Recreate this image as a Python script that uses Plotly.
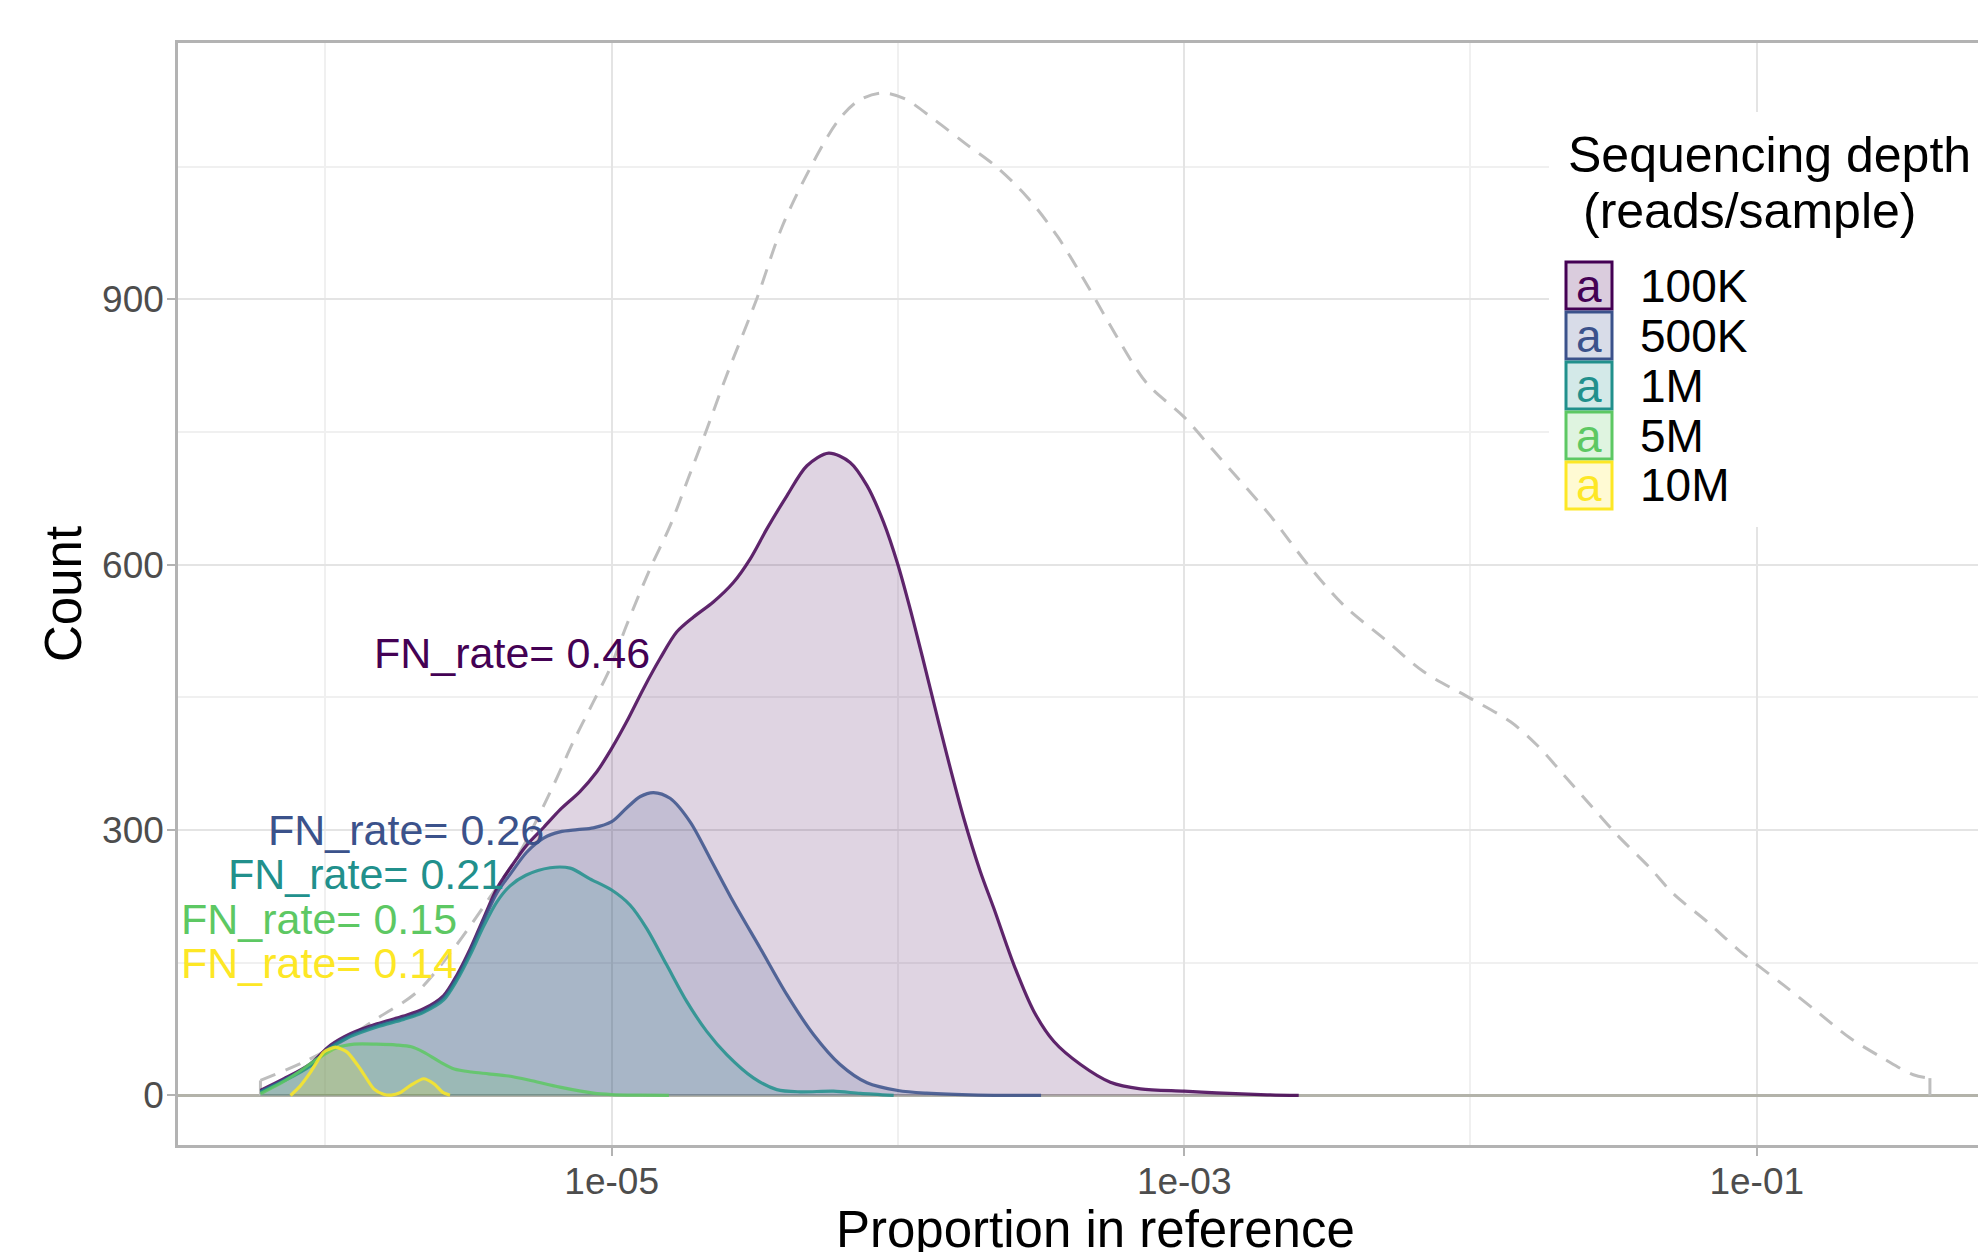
import numpy as np
import plotly.graph_objects as go

# ---------------- data (log10 of proportion, count) ----------------
depths = ["100K", "500K", "1M", "5M", "10M"]
colors = ["#440154", "#3B528B", "#21908C", "#5DC863", "#FDE725"]

lx_total = [-6.227, -6.076, -5.948, -5.82, -5.68, -5.552, -5.436, -5.32, -5.203, -5.134,
            -5.064, -5.006, -4.948, -4.866, -4.796, -4.738, -4.668, -4.60, -4.494, -4.405,
            -4.298, -4.208, -4.137, -4.057, -3.977, -3.87, -3.763, -3.656, -3.549, -3.442,
            -3.335, -3.23, -3.13, -3.0, -2.9, -2.81, -2.698, -2.57, -2.442, -2.302,
            -2.163, -2.0, -1.86, -1.767, -1.674, -1.581, -1.488, -1.372, -1.291, -1.175,
            -1.058, -0.907, -0.79, -0.674, -0.558, -0.453, -0.395]
y_total = [17, 37.7, 60, 87, 117, 166, 219, 275.5, 351, 400,
           445, 482.7, 531.6, 595.5, 644, 693, 753, 813, 900, 982,
           1053.8, 1102.6, 1125, 1133.5, 1127, 1102.6, 1076, 1050, 1016, 971,
           914, 855, 805, 767, 730, 697, 655, 601, 554, 516.5,
           479, 449, 422.5, 396, 362.4, 328.5, 294.7, 257, 228, 197,
           163, 125, 95, 65, 42, 23.4, 19.6]

lx_100k = [-6.227, -6.145, -6.052, -5.983, -5.913, -5.82, -5.727, -5.657, -5.587, -5.541,
           -5.494, -5.448, -5.401, -5.355, -5.297, -5.238, -5.181, -5.111, -5.052, -5.0,
           -4.948, -4.889, -4.831, -4.773, -4.714, -4.645, -4.575, -4.516, -4.458, -4.388,
           -4.318, -4.242, -4.167, -4.108, -4.05, -4.0, -3.945, -3.887, -3.829, -3.77,
           -3.712, -3.665, -3.595, -3.525, -3.455, -3.362, -3.258, -3.153,
           -3.0, -2.886, -2.71, -2.6]
y_100k = [5.7, 18.9, 35.9, 56.6, 69.8, 81, 89.8, 98, 113, 136,
          166, 200, 234, 257, 283, 303, 322.9, 343.6, 366, 392.4,
          422.5, 460, 494, 524, 541, 558, 580, 606.8, 640.6, 678,
          712, 726.3, 715.8, 689.5, 648, 600, 535, 460, 385, 313.5,
          253, 211.6, 147.7, 95, 61, 35, 15, 7.5,
          4.9, 3, 0.75, 0]

lx_500k = [-6.227, -6.145, -6.052, -5.983, -5.913, -5.82, -5.727, -5.657, -5.587, -5.541,
           -5.494, -5.448, -5.401, -5.355, -5.297, -5.238, -5.181, -5.12, -5.064, -5.0,
           -4.948, -4.900, -4.854, -4.796, -4.726, -4.656, -4.575, -4.481, -4.388, -4.295,
           -4.202, -4.108, -4.0, -3.9, -3.72, -3.5]
y_500k = [4.5, 17.5, 34.5, 55, 68, 79, 87.5, 95.5, 110.5, 133,
          163, 197, 229, 250, 275, 291, 298, 300.5, 302.5, 309.5,
          325, 338, 342.5, 336, 309.4, 268, 219, 166.5, 114, 69,
          35, 14.3, 5.6, 2.6, 0.5, 0]

lx_1m = [-6.227, -6.145, -6.052, -5.983, -5.913, -5.82, -5.727, -5.657, -5.587, -5.541,
         -5.494, -5.448, -5.401, -5.355, -5.30, -5.215, -5.145, -5.076, -5.0, -4.936,
         -4.878, -4.808, -4.738, -4.668, -4.598, -4.505, -4.423, -4.341, -4.225, -4.131,
         -4.015]
y_1m = [3.8, 16.5, 33.5, 53.5, 66.5, 77.5, 86, 94, 108, 130,
        159, 191, 219, 237, 249, 257.5, 257, 245, 232.3, 215.4,
        189, 147.7, 106.4, 72.5, 46.2, 19.9, 6.6, 4.1, 4.9, 2.3,
        0]

lx_5m = [-6.227, -6.15, -6.087, -6.03, -5.965, -5.9, -5.82, -5.75, -5.70, -5.657,
         -5.60, -5.55, -5.49, -5.43, -5.36, -5.29, -5.181, -5.064, -5.0, -4.9,
         -4.8]
y_5m = [2, 15, 28, 41, 53.5, 58, 58, 57, 55, 49,
        38, 30, 26.5, 24.5, 22, 17.5, 9.4, 2.6, 1, 0.3,
        0]

lx_10m = [-6.122, -6.09, -6.052, -6.006, -5.965, -5.924, -5.878, -5.831, -5.797, -5.77,
          -5.74, -5.70, -5.657, -5.62, -5.59, -5.565]
y_10m = [0, 10, 26.4, 49, 54.7, 49, 30, 7.5, 1.5, 0.5,
         3, 12, 18.9, 13, 3.5, 0.3]

series_lx = [lx_100k, lx_500k, lx_1m, lx_5m, lx_10m]
series_y = [y_100k, y_500k, y_1m, y_5m, y_10m]
series_smooth = [0.85, 0.85, 0.85, 0.8, 0.6]

fn_labels = ["FN_rate= 0.46", "FN_rate= 0.26", "FN_rate= 0.21", "FN_rate= 0.15", "FN_rate= 0.14"]
fn_lx = [-5.347, -5.72, -5.857, -6.023, -6.023]
fn_y = [500, 300, 250, 200, 150]

x_tickvals = [1e-5, 1e-3, 1e-1]
x_ticktext = ["1e-05", "1e-03", "1e-01"]
x_minor = [1e-6, 1e-4, 1e-2]
y_tickvals = [0, 300, 600, 900]
y_minor = [150, 450, 750, 1050]

# ---------------- layout helpers ----------------
W, H = 1978, 1252
ML, MR, MT, MB = 178, 0, 43, 107
PW, PH = W - ML - MR, H - MT - MB
FONT = "Liberation Sans, Arial, Helvetica, sans-serif"


def px(X):
    return (X - ML) / PW


def py(Y):
    return (MT + PH - Y) / PH


def rgba(h, a):
    h = h.lstrip("#")
    r, g, b = int(h[0:2], 16), int(h[2:4], 16), int(h[4:6], 16)
    return f"rgba({r},{g},{b},{a})"


fig = go.Figure()

# total reference (dashed)
xt = 10 ** np.array(lx_total)
fig.add_trace(go.Scatter(x=xt, y=y_total, mode="lines",
                         line=dict(color="#BEBEBE", width=3.0, dash="16px,11px",
                                   shape="spline", smoothing=0.9),
                         hoverinfo="skip", showlegend=False))
for i in (0, -1):
    fig.add_trace(go.Scatter(x=[xt[i], xt[i]], y=[0, y_total[i]], mode="lines",
                             line=dict(color="#BEBEBE", width=3.0),
                             hoverinfo="skip", showlegend=False))

# density areas
for name, c, lx, yy, sm in zip(depths, colors, series_lx, series_y, series_smooth):
    fig.add_trace(go.Scatter(x=10 ** np.array(lx), y=yy, mode="lines", name=name,
                             line=dict(color=rgba(c, 0.85), width=3.2,
                                       shape="spline", smoothing=sm),
                             fill="tozeroy", fillcolor=rgba(c, 0.17),
                             hoverinfo="skip", showlegend=False))

annotations = []
for t, c, lx, yy in zip(fn_labels, colors, fn_lx, fn_y):
    annotations.append(dict(x=lx, y=yy, xref="x", yref="y", text=t, showarrow=False,
                            xanchor="center", yanchor="middle",
                            font=dict(family=FONT, size=43, color=c)))

# axis titles
annotations.append(dict(x=px(1095), y=py(1229), xref="paper", yref="paper",
                        text="Proportion in reference", showarrow=False,
                        xanchor="center", yanchor="middle",
                        font=dict(family=FONT, size=51, color="black")))
annotations.append(dict(x=px(63), y=py(594), xref="paper", yref="paper",
                        text="Count", showarrow=False, textangle=-90,
                        xanchor="center", yanchor="middle",
                        font=dict(family=FONT, size=51, color="black")))

# legend (drawn manually, ggplot style keys with "a")
shapes = [dict(type="rect", xref="paper", yref="paper", x0=px(1549), x1=1.0,
               y0=py(527), y1=py(112), fillcolor="white", line=dict(width=0),
               layer="above")]
annotations.append(dict(x=px(1566), y=py(155), xref="paper", yref="paper",
                        text="Sequencing depth", showarrow=False,
                        xanchor="left", yanchor="middle",
                        font=dict(family=FONT, size=50, color="black")))
annotations.append(dict(x=px(1581), y=py(211), xref="paper", yref="paper",
                        text="(reads/sample)", showarrow=False,
                        xanchor="left", yanchor="middle",
                        font=dict(family=FONT, size=50, color="black")))
for i, (name, c) in enumerate(zip(depths, colors)):
    top = 262 + 50 * i
    bot = top + 47
    shapes.append(dict(type="rect", xref="paper", yref="paper",
                       x0=px(1566), x1=px(1612), y0=py(bot), y1=py(top),
                       fillcolor=rgba(c, 0.2), line=dict(color=c, width=3),
                       layer="above"))
    annotations.append(dict(x=px(1589), y=py((top + bot) / 2), xref="paper", yref="paper",
                            text="a", showarrow=False, xanchor="center", yanchor="middle",
                            font=dict(family=FONT, size=46, color=c)))
    annotations.append(dict(x=px(1638), y=py((top + bot) / 2), xref="paper", yref="paper",
                            text=name, showarrow=False, xanchor="left", yanchor="middle",
                            font=dict(family=FONT, size=46, color="black")))

fig.update_layout(
    width=W, height=H,
    margin=dict(l=ML, r=MR, t=MT, b=MB, pad=0),
    paper_bgcolor="white", plot_bgcolor="white",
    showlegend=False,
    annotations=annotations, shapes=shapes,
    xaxis=dict(type="log", range=[-6.515, -0.227],
               tickvals=x_tickvals, ticktext=x_ticktext,
               ticks="outside", ticklen=8, tickwidth=2, tickcolor="#B3B3B3",
               ticklabelstandoff=-6,
               tickfont=dict(family=FONT, size=37, color="#4D4D4D"),
               showline=True, mirror=True, linecolor="#B3B3B3", linewidth=2.5,
               showgrid=True, gridcolor="#E4E4E4", gridwidth=2,
               minor=dict(tickvals=x_minor, showgrid=True, gridcolor="#F0F0F0",
                          gridwidth=1.5, ticks=""),
               zeroline=False),
    yaxis=dict(range=[-56, 1190], tickvals=y_tickvals,
               ticks="outside", ticklen=8, tickwidth=2, tickcolor="#B3B3B3",
               ticklabelstandoff=-4,
               tickfont=dict(family=FONT, size=37, color="#4D4D4D"),
               showline=True, mirror=False, linecolor="#B3B3B3", linewidth=2.5,
               showgrid=True, gridcolor="#E4E4E4", gridwidth=2,
               minor=dict(tickvals=y_minor, showgrid=True, gridcolor="#F0F0F0",
                          gridwidth=1.5, ticks=""),
               zeroline=True, zerolinecolor="#B3B3AA", zerolinewidth=3),
)

fig.write_html("out.html")
